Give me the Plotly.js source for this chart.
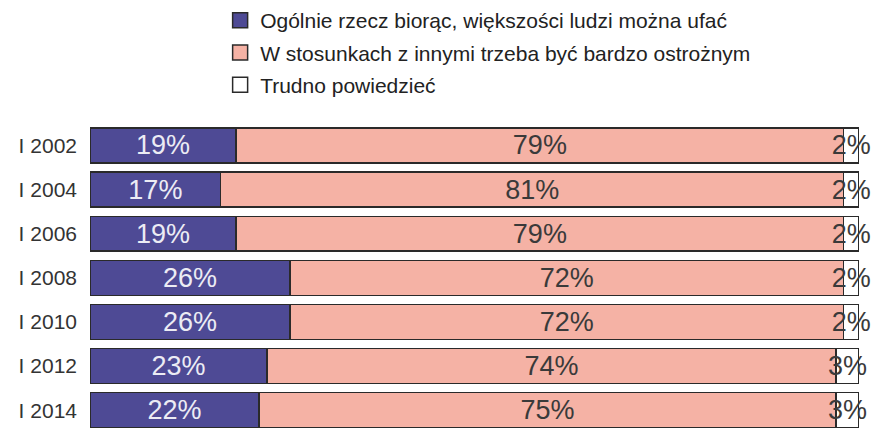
<!DOCTYPE html>
<html>
<head>
<meta charset="utf-8">
<script src="https://cdn.plot.ly/plotly-3.0.1.min.js"></script>
<style>html,body{margin:0;padding:0;background:#fff;}#chart{width:877px;height:430px;}</style>
</head>
<body>
<div id="chart"></div>
<script>
const years = ['I 2002', 'I 2004', 'I 2006', 'I 2008', 'I 2010', 'I 2012', 'I 2014'];
const trust = [19, 17, 19, 26, 26, 23, 22];
const caution = [79, 81, 79, 72, 72, 74, 75];
const hard = [2, 2, 2, 2, 2, 3, 3];
const names = ['Ogólnie rzecz biorąc, większości ludzi można ufać', 'W stosunkach z innymi trzeba być bardzo ostrożnym', 'Trudno powiedzieć'];
const colors = ['#4e4a95', '#f5b2a5', '#ffffff'];
const textColors = ['#ececf4', '#3a3a3a', '#3a3a3a'];
const series = [trust, caution, hard];

const font = 'Liberation Sans, Arial, sans-serif';
const traces = series.map((vals, i) => ({
  type: 'bar',
  orientation: 'h',
  y: years,
  x: vals,
  name: names[i],
  showlegend: false,
  marker: {color: colors[i], line: {color: '#2a2a2a', width: 1.5}},
  text: vals.map(v => v + '%'),
  texttemplate: '%{text}',
  textposition: 'inside',
  insidetextanchor: 'middle',
  constraintext: 'none',
  textangle: 0,
  cliponaxis: false,
  textfont: {family: font, size: 27, color: textColors[i]},
  hoverinfo: 'skip'
}));

// legend entries (larger square swatches, as in the reference)
names.forEach((n, i) => {
  traces.push({
    type: 'scatter', mode: 'markers',
    x: [null], y: [null],
    name: n,
    legendgroup: 'g' + i,
    showlegend: true,
    marker: {symbol: 'square', size: 15, color: colors[i], line: {color: '#2a2a2a', width: 1.5}},
    hoverinfo: 'skip'
  });
});

const layout = {
  width: 877, height: 430,
  margin: {l: 89.5, r: 18, t: 123, b: 0, autoexpand: false},
  paper_bgcolor: '#ffffff', plot_bgcolor: '#ffffff',
  barmode: 'stack',
  bargap: 0.21,
  showlegend: true,
  legend: {
    xref: 'container', yref: 'container',
    x: 0.251, y: 1.013, xanchor: 'left', yanchor: 'top',
    traceorder: 'grouped', tracegroupgap: 2,
    itemsizing: 'trace',
    font: {family: font, size: 21, color: '#222'},
    bgcolor: 'rgba(0,0,0,0)'
  },
  xaxis: {range: [0, 100], showgrid: false, zeroline: false, showticklabels: false, showline: false, fixedrange: true},
  yaxis: {type: 'category', categoryarray: years, categoryorder: 'array', range: [6.45, -0.51], showgrid: false, zeroline: false, showline: false,
          ticks: '', ticklabelstandoff: 12,
          tickfont: {family: font, size: 21, color: '#333'}}
};

Plotly.newPlot('chart', traces, layout, {displayModeBar: false, staticPlot: true});
</script>
</body>
</html>
